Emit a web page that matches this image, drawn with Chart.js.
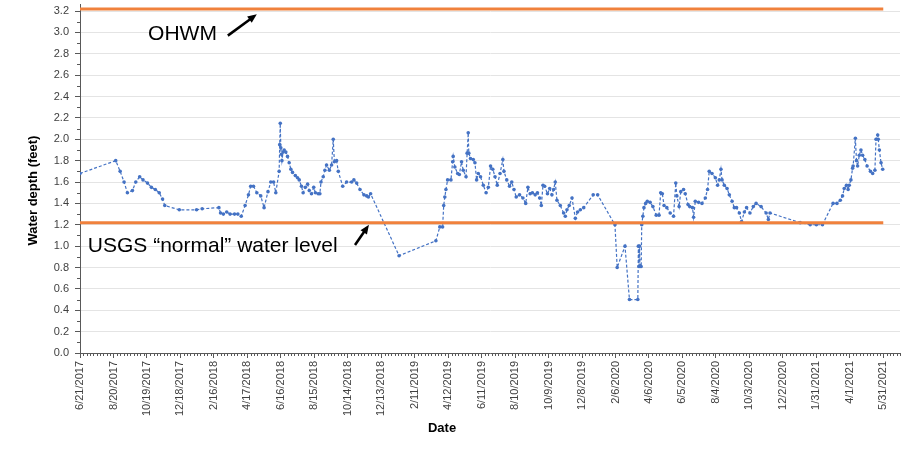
<!DOCTYPE html>
<html lang="en">
<head>
    <meta charset="UTF-8">
    <title>Water depth</title>
    <script src="https://cdn.jsdelivr.net/npm/chart.js"></script>
    <style>
        body { margin: 0; background: #fff; }
        #wrap { width: 904px; height: 450px; position: relative; }
    </style>
</head>
<body>
    <div id="wrap"><canvas id="depthChart"></canvas></div>

    <script>
        // x values are days since 6/21/2017 (first tick label)
        const tickLabels = [
            "6/21/2017", "8/20/2017", "10/19/2017", "12/18/2017", "2/16/2018",
            "4/17/2018", "6/16/2018", "8/15/2018", "10/14/2018", "12/13/2018",
            "2/11/2019", "4/12/2019", "6/11/2019", "8/10/2019", "10/9/2019",
            "12/8/2019", "2/6/2020", "4/6/2020", "6/5/2020", "8/4/2020",
            "10/3/2020", "12/2/2020", "1/31/2021", "4/1/2021", "5/31/2021"
        ];
        const tickStepDays = 60;

        const sampleDays = [
            0, 64, 72, 79, 85, 94, 100, 107, 113, 121, 128, 135, 142, 148, 152,
            178, 209, 219, 249, 252, 257, 263, 269, 277, 283, 289, 296, 302, 306, 311,
            317, 324, 330, 337, 342, 347, 351, 357, 358, 359, 360, 361, 362, 364, 366,
            369, 372, 375, 378, 381, 386, 390, 393, 397, 400, 404, 408, 411, 415, 419,
            422, 427, 430, 432, 436, 439, 442, 447, 451, 454, 456, 460, 463, 471, 478,
            487, 491, 496, 502, 509, 514, 517, 521, 572, 638, 645, 650, 652, 654, 656,
            659, 665, 668, 669, 672, 677, 680, 684, 687, 692, 694, 696, 697, 700, 705,
            708, 711, 714, 718, 723, 728, 732, 736, 740, 744, 748, 753, 758, 760, 765,
            770, 774, 778, 782, 788, 794, 799, 803, 807, 811, 816, 820, 824, 827, 830,
            833, 838, 842, 846, 849, 852, 855, 861, 867, 870, 873, 877, 882, 888, 892,
            897, 903, 920, 928, 959, 963, 977, 985, 1000, 1001, 1002, 1003, 1004, 1006, 1007,
            1009, 1011, 1014, 1017, 1022, 1027, 1033, 1038, 1041, 1044, 1047, 1052, 1058, 1064, 1068,
            1070, 1074, 1077, 1082, 1085, 1090, 1093, 1098, 1100, 1103, 1109, 1115, 1121, 1125, 1128,
            1133, 1139, 1143, 1146, 1149, 1151, 1155, 1160, 1164, 1169, 1173, 1177, 1182, 1186, 1191,
            1195, 1201, 1207, 1212, 1221, 1230, 1234, 1237, 1291, 1309, 1320, 1331, 1350, 1357, 1363,
            1367, 1370, 1374, 1377, 1379, 1382, 1385, 1386, 1390, 1392, 1394, 1397, 1400, 1403, 1407,
            1411, 1417, 1421, 1425, 1427, 1430, 1431, 1433, 1436, 1439
        ];
        const waterDepth = [
            1.68, 1.80, 1.70, 1.60, 1.50, 1.52, 1.60, 1.65, 1.62, 1.59, 1.55, 1.53, 1.50, 1.44, 1.38,
            1.34, 1.34, 1.35, 1.36, 1.31, 1.30, 1.32, 1.30, 1.30, 1.30, 1.28, 1.38, 1.48, 1.56, 1.56,
            1.50, 1.47, 1.36, 1.51, 1.60, 1.60, 1.50, 1.70, 1.95, 2.15, 1.92, 1.86, 1.80, 1.88, 1.90,
            1.88, 1.84, 1.78, 1.72, 1.69, 1.66, 1.64, 1.62, 1.56, 1.50, 1.55, 1.58, 1.52, 1.49, 1.55,
            1.50, 1.49, 1.49, 1.60, 1.65, 1.71, 1.76, 1.71, 1.76, 2.00, 1.79, 1.80, 1.70, 1.56, 1.60,
            1.60, 1.62, 1.59, 1.53, 1.48, 1.47, 1.46, 1.49, 0.91, 1.05, 1.18, 1.18, 1.38, 1.46, 1.53,
            1.62, 1.62, 1.79, 1.84, 1.74, 1.68, 1.67, 1.79, 1.71, 1.65, 1.87, 2.06, 1.87, 1.82, 1.81,
            1.78, 1.62, 1.68, 1.65, 1.57, 1.50, 1.55, 1.75, 1.72, 1.65, 1.57, 1.68, 1.81, 1.70, 1.62,
            1.56, 1.60, 1.53, 1.46, 1.48, 1.45, 1.40, 1.55, 1.49, 1.50, 1.48, 1.50, 1.45, 1.38, 1.57,
            1.56, 1.49, 1.54, 1.48, 1.53, 1.60, 1.43, 1.38, 1.31, 1.28, 1.34, 1.38, 1.45, 1.26, 1.32,
            1.34, 1.36, 1.48, 1.48, 1.20, 0.80, 1.00, 0.50, 0.50, 1.00, 0.81, 1.00, 0.81, 0.81, 1.20,
            1.28, 1.36, 1.40, 1.42, 1.41, 1.37, 1.29, 1.29, 1.50, 1.49, 1.38, 1.36, 1.31, 1.28, 1.59,
            1.47, 1.37, 1.51, 1.53, 1.49, 1.39, 1.37, 1.36, 1.27, 1.42, 1.41, 1.40, 1.45, 1.53, 1.70,
            1.68, 1.64, 1.57, 1.62, 1.72, 1.62, 1.57, 1.54, 1.48, 1.42, 1.36, 1.36, 1.31, 1.23, 1.32,
            1.36, 1.31, 1.37, 1.40, 1.37, 1.31, 1.25, 1.31, 1.22, 1.20, 1.20, 1.20, 1.40, 1.40, 1.43,
            1.47, 1.54, 1.57, 1.53, 1.57, 1.62, 1.73, 1.75, 2.01, 1.80, 1.75, 1.85, 1.90, 1.85, 1.81,
            1.75, 1.70, 1.68, 1.71, 2.00, 2.04, 2.00, 1.90, 1.78, 1.72
        ];

        const ohwmLevel = 3.22;
        const normalLevel = 1.22;
        const levelLineDays = [0, 1440];

        const yTicks = [];
        for (let i = 0; i <= 16; i++) yTicks.push(+(i * 0.2).toFixed(1));

        const xMaxDay = 1470;
        const yMax = 3.266;
        const axisColor = '#595959';
        const textColor = '#404040';
        const fontFamily = '"Liberation Sans", Arial, sans-serif';

        // minor ticks, axis titles and the two callouts
        const extrasPlugin = {
            id: 'extras',
            afterDraw(chart) {
                const { ctx, chartArea } = chart;
                const xs = chart.scales.x;
                const ys = chart.scales.y;
                ctx.save();
                ctx.strokeStyle = axisColor;
                ctx.lineWidth = 1;
                ctx.beginPath();
                for (let d = 6; d <= xMaxDay; d += 6) {
                    if (d % tickStepDays === 0) continue;
                    const px = Math.round(xs.getPixelForValue(d)) + 0.5;
                    ctx.moveTo(px, chartArea.bottom);
                    ctx.lineTo(px, chartArea.bottom + 3);
                }
                for (let i = 1; i / 10 <= yMax; i += 2) {
                    const py = Math.round(ys.getPixelForValue(i / 10)) + 0.5;
                    ctx.moveTo(chartArea.left - 3, py);
                    ctx.lineTo(chartArea.left, py);
                }
                ctx.stroke();

                // axis titles
                ctx.fillStyle = '#000';
                ctx.font = 'bold 13px ' + fontFamily;
                ctx.textAlign = 'center';
                ctx.textBaseline = 'middle';
                ctx.fillText('Date', xs.getPixelForValue(649), 428);
                ctx.save();
                ctx.translate(33, ys.getPixelForValue(1.52));
                ctx.rotate(-Math.PI / 2);
                ctx.fillText('Water depth (feet)', 0, 0);
                ctx.restore();

                // callouts
                ctx.font = '21px ' + fontFamily;
                ctx.textAlign = 'left';
                ctx.textBaseline = 'alphabetic';
                ctx.fillText('OHWM', xs.getPixelForValue(122), ys.getPixelForValue(2.93));
                ctx.fillText('USGS \u201cnormal\u201d water level', xs.getPixelForValue(14), ys.getPixelForValue(0.945));

                drawArrow(ctx, xs.getPixelForValue(265), ys.getPixelForValue(2.97),
                    xs.getPixelForValue(317), ys.getPixelForValue(3.17));
                drawArrow(ctx, xs.getPixelForValue(493), ys.getPixelForValue(1.01),
                    xs.getPixelForValue(518), ys.getPixelForValue(1.20));
                ctx.restore();
            }
        };

        function drawArrow(ctx, x1, y1, x2, y2) {
            const ang = Math.atan2(y2 - y1, x2 - x1);
            const head = 10;
            ctx.strokeStyle = '#000';
            ctx.fillStyle = '#000';
            ctx.lineWidth = 2.5;
            ctx.beginPath();
            ctx.moveTo(x1, y1);
            ctx.lineTo(x2 - Math.cos(ang) * head * 0.7, y2 - Math.sin(ang) * head * 0.7);
            ctx.stroke();
            ctx.beginPath();
            ctx.moveTo(x2, y2);
            ctx.lineTo(x2 - head * Math.cos(ang - 0.4), y2 - head * Math.sin(ang - 0.4));
            ctx.lineTo(x2 - head * Math.cos(ang + 0.4), y2 - head * Math.sin(ang + 0.4));
            ctx.closePath();
            ctx.fill();
        }

        const depthPoints = sampleDays.map((d, i) => ({ x: d, y: waterDepth[i] }));

        new Chart(document.getElementById('depthChart'), {
            type: 'line',
            data: {
                datasets: [
                    {
                        label: 'OHWM',
                        data: levelLineDays.map(d => ({ x: d, y: ohwmLevel })),
                        borderColor: '#F0813C',
                        borderWidth: 3,
                        pointRadius: 0
                    },
                    {
                        label: 'USGS normal',
                        data: levelLineDays.map(d => ({ x: d, y: normalLevel })),
                        borderColor: '#F0813C',
                        borderWidth: 3,
                        pointRadius: 0
                    },
                    {
                        label: 'Water depth',
                        data: depthPoints,
                        borderColor: '#4472C4',
                        backgroundColor: '#4472C4',
                        borderWidth: 1.2,
                        borderDash: [3, 2],
                        pointRadius: 1.8,
                        pointBorderWidth: 0,
                        tension: 0
                    }
                ]
            },
            options: {
                responsive: true,
                maintainAspectRatio: false,
                animation: false,
                layout: { padding: { top: -5, right: -5, left: 0, bottom: 0 } },
                plugins: {
                    legend: { display: false },
                    tooltip: { enabled: false }
                },
                scales: {
                    x: {
                        type: 'linear',
                        min: 0,
                        max: xMaxDay,
                        afterBuildTicks: (scale) => {
                            scale.ticks = tickLabels.map((_, i) => ({ value: i * tickStepDays }));
                        },
                        afterFit: (scale) => {
                            scale.height = 97;
                            scale.paddingLeft = 0;
                            scale.paddingRight = 0;
                        },
                        ticks: {
                            autoSkip: false,
                            minRotation: 90,
                            maxRotation: 90,
                            padding: 3,
                            color: textColor,
                            font: { family: fontFamily, size: 11 },
                            callback: (v) => tickLabels[Math.round(v / tickStepDays)]
                        },
                        grid: {
                            drawOnChartArea: false,
                            tickLength: 5,
                            tickColor: axisColor
                        },
                        border: { color: axisColor }
                    },
                    y: {
                        min: 0,
                        max: yMax,
                        afterBuildTicks: (scale) => {
                            scale.ticks = yTicks.map(v => ({ value: v }));
                        },
                        afterFit: (scale) => {
                            scale.width = 80;
                            scale.paddingTop = 0;
                            scale.paddingBottom = 0;
                        },
                        ticks: {
                            padding: 6,
                            color: textColor,
                            font: { family: fontFamily, size: 11 },
                            callback: (v) => v.toFixed(1)
                        },
                        grid: {
                            color: '#E4E4E4',
                            tickLength: 5,
                            tickColor: axisColor
                        },
                        border: { color: axisColor }
                    }
                }
            },
            plugins: [extrasPlugin]
        });
    </script>
</body>
</html>
